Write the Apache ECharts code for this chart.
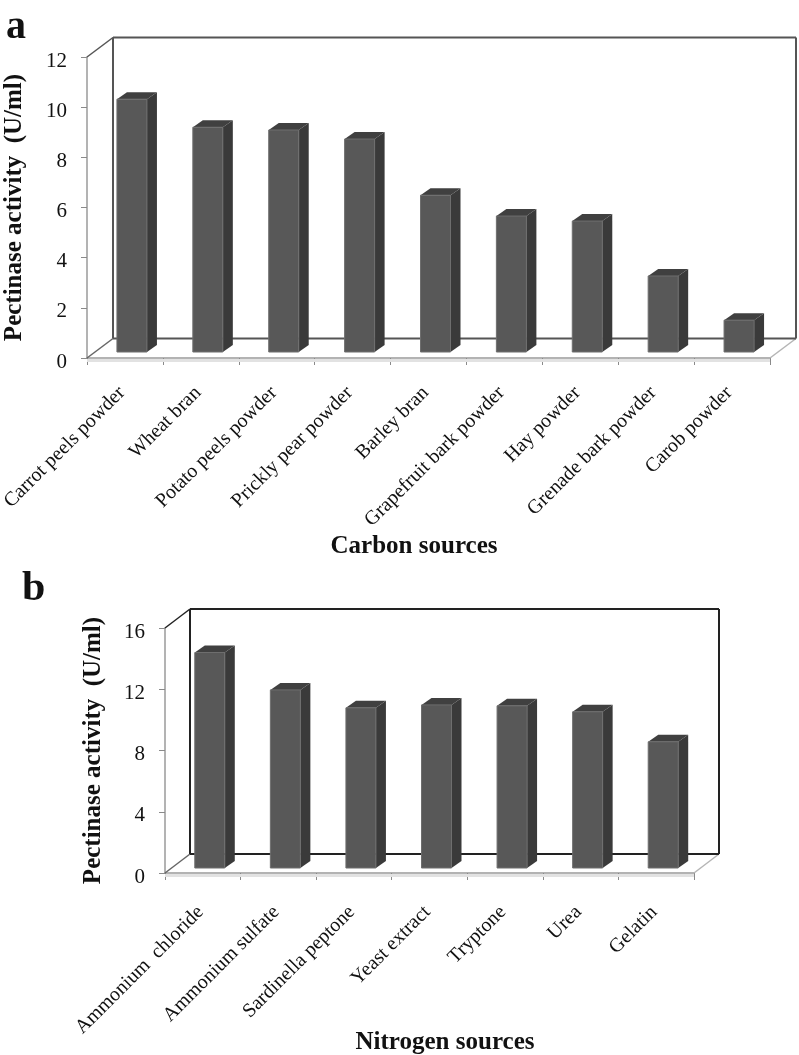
<!DOCTYPE html>
<html>
<head>
<meta charset="utf-8">
<style>html,body{margin:0;padding:0;background:#fff}#c{width:799px;height:1055px}</style>
<script src="https://cdn.jsdelivr.net/npm/echarts@6/dist/echarts.min.js"></script>
</head>
<body>
<div id="c"></div>
<script>
const carbonCategories = ['Carrot peels powder','Wheat bran','Potato peels powder','Prickly pear powder','Barley bran','Grapefruit bark powder','Hay powder','Grenade bark powder','Carob powder'];
const carbonValues = [10.08, 8.96, 8.85, 8.49, 6.25, 5.42, 5.22, 3.03, 1.27];
const nitrogenCategories = ['Ammonium  chloride','Ammonium sulfate','Sardinella peptone','Yeast extract','Tryptone','Urea','Gelatin'];
const nitrogenValues = [14.07, 11.63, 10.46, 10.65, 10.59, 10.2, 8.24];
const carbonTicks = {max: 12, interval: 2};
const nitrogenTicks = {max: 16, interval: 4};

const SERIF = '"Liberation Serif","Times New Roman",serif';

function frameRenderer(n, yMax, wall, dx, dy) {
  return function (params, api) {
    const band = api.size([1, 0])[0];
    const l = api.coord([0, 0])[0] - band / 2;
    const r = api.coord([n - 1, 0])[0] + band / 2;
    const b = api.coord([0, 0])[1];
    const t = api.coord([0, yMax])[1];
    const ln = (x1, y1, x2, y2, stroke, w) => ({
      type: 'line', shape: {x1, y1, x2, y2}, style: {stroke, lineWidth: w}
    });
    return {type: 'group', children: [
      ln(l, b + 2.5, r, b + 2.5, '#e2e2e2', 3),
      ln(l, b, l + dx, b + dy, '#666', 1.5),
      ln(r, b, r + dx, b + dy, '#b5b5b5', 1.5),
      ln(l + dx, b + dy, r + dx, b + dy, wall, 2),
      ln(l + dx, b + dy, l + dx, t + dy, wall, 2),
      ln(r + dx, b + dy, r + dx, t + dy, wall, 2),
      ln(l + dx, t + dy, r + dx, t + dy, wall, 2),
      ln(l, t, l + dx, t + dy, wall, 1.5)
    ]};
  };
}

function barRenderer(ox, oy) {
  const w = 30, sx = 10, sy = -7;
  return function (params, api) {
    const i = api.value(0), v = api.value(1);
    const cx = api.coord([i, 0])[0] + ox;
    const base = api.coord([i, 0])[1] + oy;
    const top = api.coord([i, v])[1] + oy;
    const L = cx - w / 2, R = cx + w / 2;
    return {type: 'group', children: [
      {type: 'polygon', shape: {points: [[R, top], [R + sx, top + sy], [R + sx, base + sy], [R, base]]},
        style: {fill: '#3a3a3a'}},
      {type: 'polygon', shape: {points: [[L, top], [L + sx, top + sy], [R + sx, top + sy], [R, top]]},
        style: {fill: '#404040'}},
      {type: 'rect', shape: {x: L, y: top, width: w, height: base - top},
        style: {fill: '#585858', stroke: '#6e6e6e', lineWidth: 1}}
    ]};
  };
}

function yAxis(idx, t, nameSize, nameGap) {
  return {
    type: 'value', gridIndex: idx, min: 0, max: t.max, interval: t.interval,
    name: 'Pectinase activity  (U/ml)', nameLocation: 'middle', nameGap, nameMoveOverlap: false,
    nameTextStyle: {fontFamily: SERIF, fontWeight: 'bold', fontSize: nameSize, color: '#111'},
    axisLine: {show: true, lineStyle: {color: '#9a9a9a', width: 1.5}},
    axisTick: {show: true, length: 6, lineStyle: {color: '#8a8a8a'}},
    axisLabel: {fontFamily: SERIF, fontSize: 21, color: '#111', margin: 20, verticalAlign: 'top', lineHeight: 8},
    splitLine: {show: false}
  };
}
function xAxis(idx, cats, name, gap, pad, margin, labelPad) {
  return {
    type: 'category', gridIndex: idx, data: cats, boundaryGap: true,
    name, nameLocation: 'middle', nameGap: gap, nameMoveOverlap: false,
    nameTextStyle: {fontFamily: SERIF, fontWeight: 'bold', fontSize: 25, color: '#111', padding: pad},
    axisLine: {show: true, lineStyle: {color: '#9a9a9a', width: 1.5}},
    axisTick: {show: true, length: 7, lineStyle: {color: '#8a8a8a'}},
    axisLabel: {interval: 0, rotate: 45, fontFamily: SERIF, fontSize: 20, color: '#111', margin, padding: [0, labelPad, 0, 0]}
  };
}

const chart = echarts.init(document.getElementById('c'), null, {renderer: 'canvas'});
chart.setOption({
  animation: false,
  backgroundColor: '#fff',
  title: [
    {text: 'a', left: 1, top: 3, textStyle: {fontFamily: SERIF, fontWeight: 'bold', fontSize: 40, color: '#111'}},
    {text: 'b', left: 17, top: 563, textStyle: {fontFamily: SERIF, fontWeight: 'bold', fontSize: 42, color: '#111'}}
  ],
  grid: [
    {left: 87, top: 57, width: 683, height: 301, outerBoundsMode: 'none', containLabel: false},
    {left: 165, top: 628, width: 529, height: 245, outerBoundsMode: 'none', containLabel: false}
  ],
  xAxis: [
    xAxis(0, carbonCategories, 'Carbon sources', 176, [0, 29, 0, 0], 29, 4),
    xAxis(1, nitrogenCategories, 'Nitrogen sources', 157, [0, 0, 0, 31], 34, 3)
  ],
  yAxis: [yAxis(0, carbonTicks, 25, 60), yAxis(1, nitrogenTicks, 25, 59)],
  series: [
    {type: 'custom', xAxisIndex: 0, yAxisIndex: 0, z: 1, silent: true, data: [[0, 0]],
      renderItem: frameRenderer(carbonCategories.length, carbonTicks.max, '#555', 26, -19.5)},
    {type: 'custom', xAxisIndex: 0, yAxisIndex: 0, z: 3,
      data: carbonValues.map((v, i) => [i, v]), renderItem: barRenderer(7, -6)},
    {type: 'custom', xAxisIndex: 1, yAxisIndex: 1, z: 1, silent: true, data: [[0, 0]],
      renderItem: frameRenderer(nitrogenCategories.length, nitrogenTicks.max, '#222', 25, -19)},
    {type: 'custom', xAxisIndex: 1, yAxisIndex: 1, z: 3,
      data: nitrogenValues.map((v, i) => [i, v]), renderItem: barRenderer(7, -5)}
  ]
});
</script>
</body>
</html>
